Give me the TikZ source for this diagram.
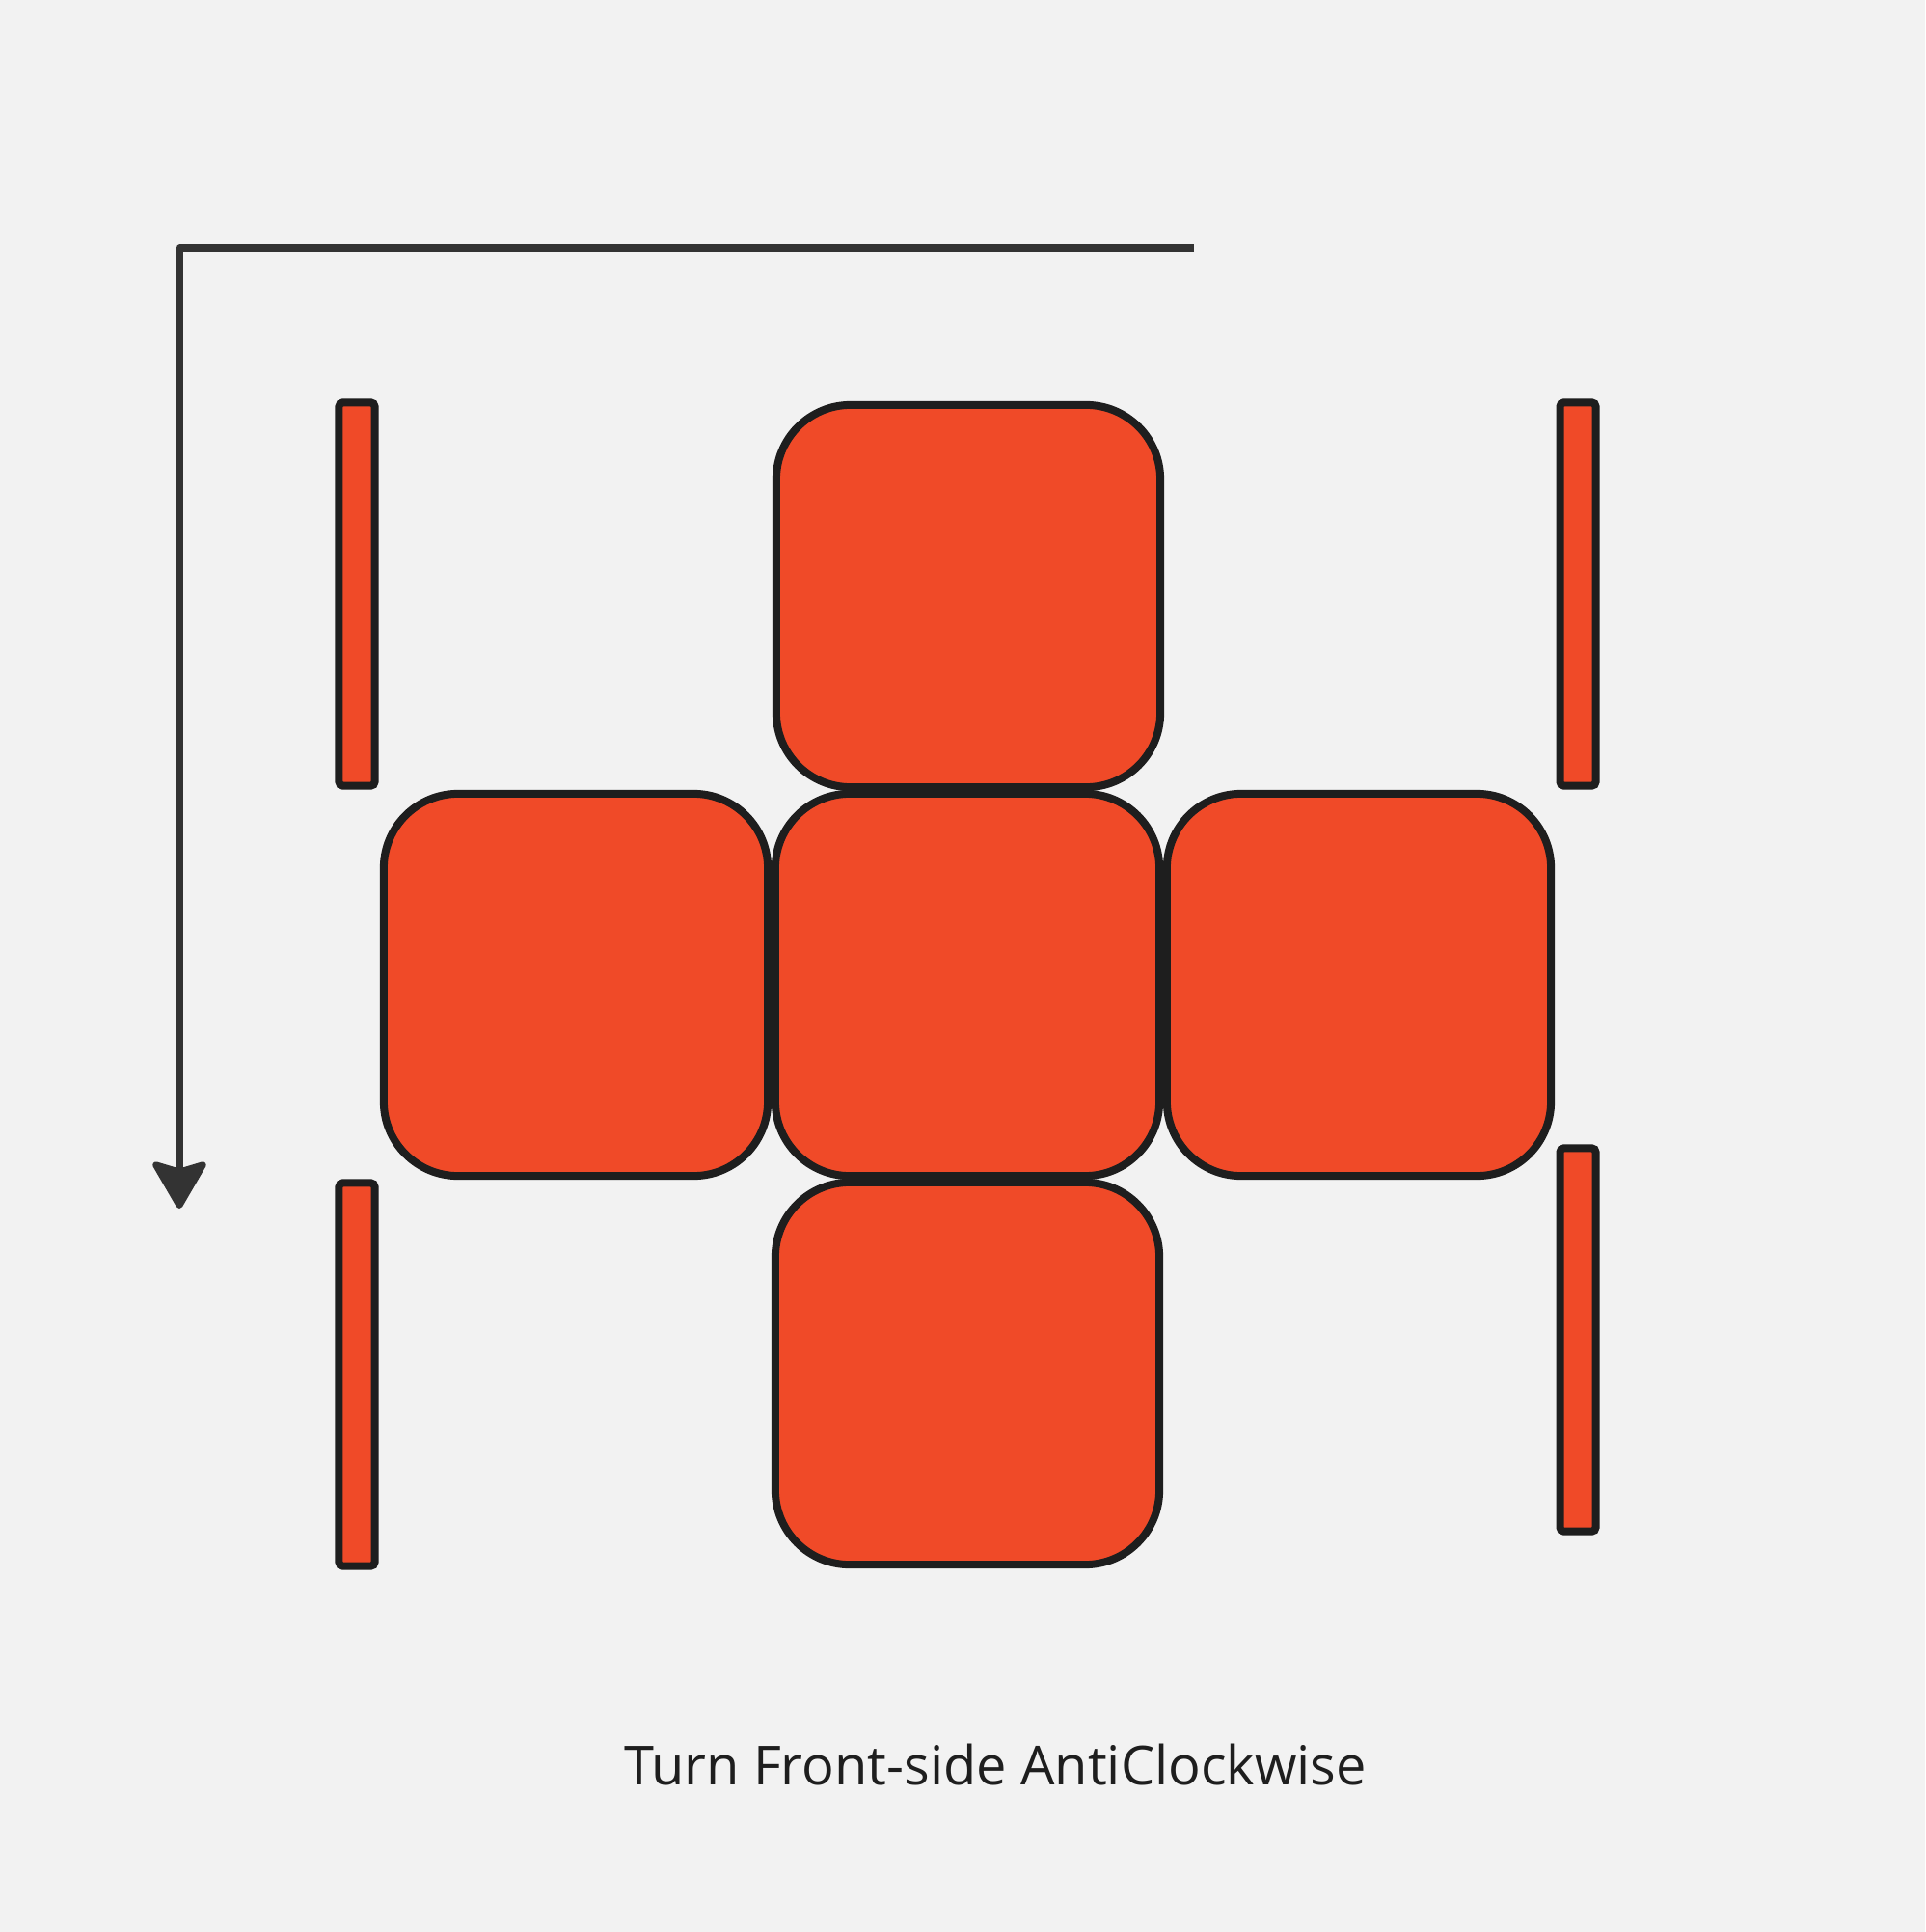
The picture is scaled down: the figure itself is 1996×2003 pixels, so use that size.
\documentclass[tikz,border=0pt]{standalone}
\usepackage{fontspec}
\setmainfont{Open Sans}
\usetikzlibrary{arrows.meta}

\definecolor{bg}{HTML}{F2F2F2}
\definecolor{facered}{HTML}{F04A28}
\definecolor{edge}{HTML}{1E1E1E}
\definecolor{arrowgray}{HTML}{333333}

\begin{document}
\begin{tikzpicture}[x=0.01cm, y=-0.01cm,
  face/.style={draw=edge, fill=facered, line width=0.8mm, rounded corners=7.7mm,
    minimum width=3.98cm, minimum height=3.96cm, inner sep=0pt},
  strip/.style={draw=edge, fill=facered, line width=0.8mm, rounded corners=0.4mm,
    minimum width=0.37cm, minimum height=3.97cm, inner sep=0pt},
  turn/.style={draw=arrowgray, line width=0.7mm, line join=round,
    -{Stealth[length=5.4mm, width=6.2mm, inset=0.9mm, round]}}]

% ----- Canvas -----
\fill[bg] (0,0) rectangle (1996,2003);
\useasboundingbox (0,0) rectangle (1996,2003);

% ----- Front face and its neighbours -----
\node[face] (U) at (1004,618)  {};
\node[face] (L) at (597,1021)  {};
\node[face] (F) at (1003,1021) {};
\node[face] (R) at (1409,1021) {};
\node[face] (D) at (1003,1424) {};

% ----- Side strips -----
\foreach \name/\x/\y in {LT/370/616, LB/370/1425, RT/1636/616, RB/1636/1389} {
  \node[strip] (\name) at (\x,\y) {};
}

% ----- Turn arrow -----
\coordinate (A) at (1238,257);   % free end
\coordinate (B) at (186,257);    % corner
\coordinate (C) at (186,1253);   % tip
\draw[turn] (A) -- (B) -- (C);

% ----- Caption -----
\node[text=edge, font=\fontsize{15.9}{19}\selectfont, anchor=base, inner sep=0pt]
  (caption) at (1032,1850) {Turn Front-side AntiClockwise};

\end{tikzpicture}
\end{document}
